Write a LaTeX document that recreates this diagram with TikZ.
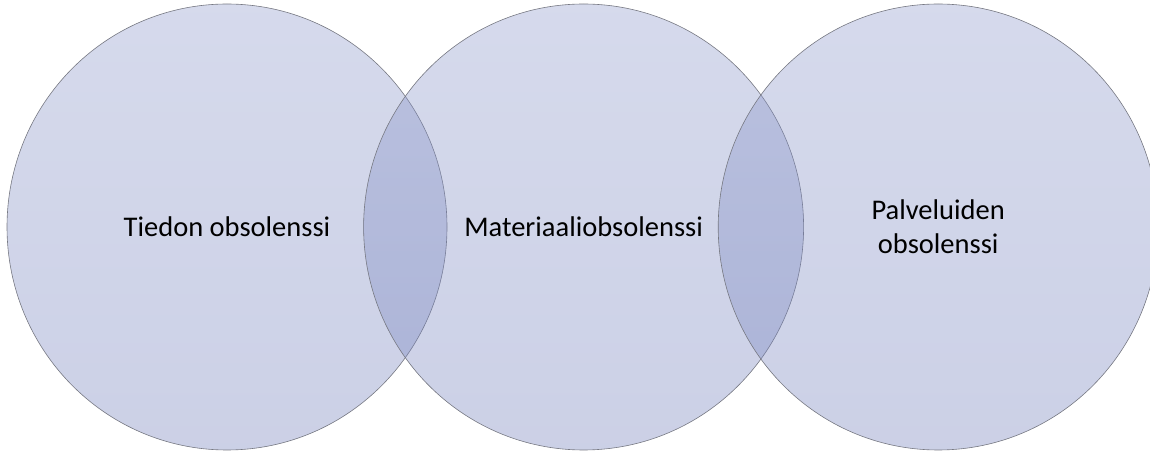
\documentclass[tikz,border=0pt]{standalone}
\usepackage{fontspec}
\setmainfont{Carlito}
\usepackage{tikz}
\usetikzlibrary{shapes.geometric, positioning}
\definecolor{venntop}{RGB}{140,152,202}
\definecolor{vennbot}{RGB}{112,125,186}
\definecolor{venndraw}{RGB}{118,120,130}
\tikzset{
  venn/.style={ellipse, draw=venndraw, line width=0.6pt,
    top color=venntop, bottom color=vennbot, fill opacity=0.36, text opacity=1,
    minimum width=440pt, minimum height=446pt, inner sep=0pt,
    align=center, font=\fontsize{28.5}{34}\selectfont}
}

\begin{document}
\begin{tikzpicture}[x=1pt, y=1pt]
  \useasboundingbox (0,0) rectangle (1150,452);
  \node[venn] (tiedon) at (227,225) {Tiedon obsolenssi};
  \node[venn, right=-84pt of tiedon] (materiaali) {Materiaaliobsolenssi};
  \node[venn, right=-86pt of materiaali] (palvelut) {Palveluiden\\obsolenssi};
\end{tikzpicture}
\end{document}
